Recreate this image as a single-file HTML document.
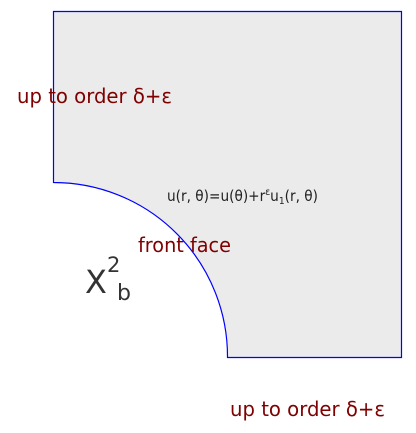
<!DOCTYPE html>
<html><head><meta charset="utf-8"><style>
html,body{margin:0;padding:0;background:#fff;width:416px;height:433px;overflow:hidden}
text{font-family:"DejaVu Sans","Liberation Sans",sans-serif}
</style></head><body>
<svg width="416" height="433" viewBox="0 0 416 433">
<path d="M53.5 11.5 H401.5 V357.5 H227.5 A174 174 0 0 0 53.5 182.5 Z" fill="#ebebeb" stroke="#0000ff" stroke-width="1.2"/>
<text x="17" y="103" font-size="20" fill="#7f0000" textLength="155" lengthAdjust="spacingAndGlyphs">up to order δ+ε</text>
<text x="230" y="416" font-size="20" fill="#7f0000" textLength="155" lengthAdjust="spacingAndGlyphs">up to order δ+ε</text>
<text x="167" y="201" font-size="15" fill="#222" textLength="151" lengthAdjust="spacingAndGlyphs">u(r, θ)=u(θ)+r<tspan font-size="10" dy="-6">ε</tspan><tspan dy="6">u</tspan><tspan font-size="10" dy="3">1</tspan><tspan dy="-3">(r, θ)</tspan></text>
<text x="138" y="252" font-size="20" fill="#7f0000" textLength="93" lengthAdjust="spacingAndGlyphs">front face</text>
<text x="85" y="293" font-size="32" fill="#333">X</text>
<text x="107" y="272" font-size="21" fill="#333">2</text>
<text x="117" y="300" font-size="22" fill="#333">b</text>
</svg>
</body></html>
